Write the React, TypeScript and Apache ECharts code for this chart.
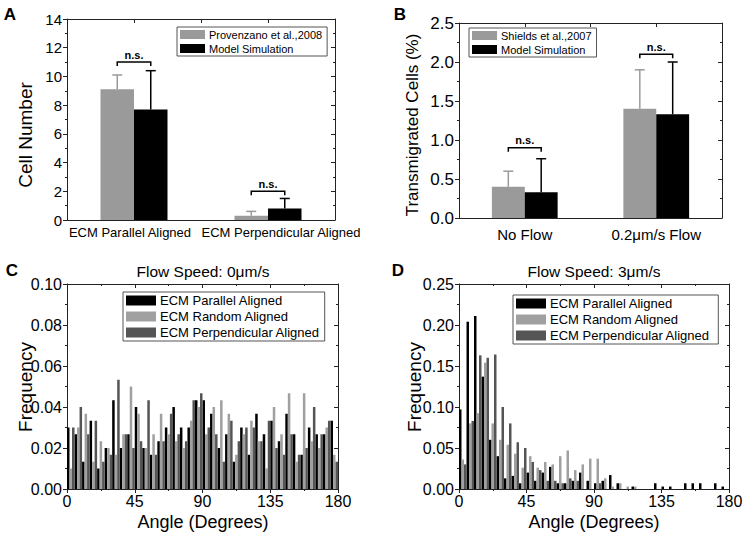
import React, { useEffect, useRef } from 'react';
import * as echarts from 'echarts';

const FONT = '"Liberation Sans", Arial, Helvetica, sans-serif';
const AXIS = '#222222';
const GRAY = '#9a9a9a';
const BLACK = '#000000';
const LIGHT = '#a0a0a0';
const DARK = '#555555';

// ---------- Panel A ----------
const catsA = ['ECM Parallel Aligned', 'ECM Perpendicular Aligned'];
const provenzano = [9.1, 0.3];
const provenzanoErr = [10.1, 0.6];
const modelA = [7.7, 0.8];
const modelAErr = [10.4, 1.5];
const nsA = [11, 2];

// ---------- Panel B ----------
const catsB = ['No Flow', '0.2μm/s Flow'];
const shields = [0.4, 1.4];
const shieldsErr = [0.6, 1.9];
const modelB = [0.33, 1.33];
const modelBErr = [0.76, 2.0];
const nsB = [0.9, 2.1];

// ---------- Panels C / D (5-degree bins) ----------
const binStarts = ['0', '5', '10', '15', '20', '25', '30', '35', '40', '45', '50', '55', '60', '65', '70', '75', '80', '85',
  '90', '95', '100', '105', '110', '115', '120', '125', '130', '135', '140', '145', '150', '155', '160', '165', '170', '175'];

const parallelC = [0.030, 0.0267, 0.0133, 0.0333, 0.010, 0.020, 0.0433, 0.020, 0.0267, 0.040, 0.020, 0.0167,
  0.0233, 0.030, 0.040, 0.030, 0.030, 0.0433, 0.0433, 0.0367, 0.020, 0.0267, 0.0133, 0.030,
  0.0167, 0.0367, 0.0267, 0.0333, 0.0233, 0.0367, 0.0267, 0.0167, 0.030, 0.0267, 0.0267, 0.0333];
const randomC = [0.010, 0.030, 0.0367, 0.0133, 0.0233, 0.020, 0.0167, 0.0267, 0.050, 0.0367, 0.020, 0.0267,
  0.0367, 0.0267, 0.0233, 0.020, 0.0333, 0.040, 0.0267, 0.040, 0.0433, 0.0367, 0.0167, 0.0267,
  0.0333, 0.0233, 0.010, 0.040, 0.0267, 0.0467, 0.0133, 0.0467, 0.0233, 0.020, 0.030, 0.0167];
const perpC = [0.030, 0.040, 0.0267, 0.0333, 0.0133, 0.0167, 0.0533, 0.0267, 0.020, 0.0233, 0.0433, 0.0167,
  0.0233, 0.0367, 0.0267, 0.0233, 0.0433, 0.0467, 0.030, 0.0267, 0.0133, 0.0333, 0.0233, 0.030,
  0.030, 0.0233, 0.0333, 0.020, 0.0167, 0.0267, 0.0167, 0.020, 0.040, 0.0267, 0.0333, 0.0133];

const parallelD = [0.097, 0.204, 0.211, 0.137, 0.060, 0.040, 0.013, 0.016, 0.007, 0.020, 0.010, 0.020,
  0.027, 0.007, 0.007, 0.010, 0.020, 0.010, 0.007, 0.010, 0.017, 0.007, 0, 0.003,
  0, 0, 0.007, 0.003, 0.003, 0, 0.007, 0.007, 0.007, 0, 0.007, 0.003];
const randomD = [0.036, 0.080, 0.0925, 0.154, 0.080, 0.060, 0.054, 0.043, 0.026, 0.040, 0.026, 0.033,
  0.030, 0.040, 0.047, 0.023, 0.030, 0.037, 0.037, 0.013, 0.003, 0.007, 0.003, 0.003,
  0, 0, 0, 0, 0, 0, 0, 0, 0, 0, 0, 0];
const perpD = [0.030, 0.083, 0.163, 0.160, 0.164, 0.100, 0.080, 0.057, 0.050, 0.033, 0.023, 0.010,
  0.010, 0.007, 0.013, 0.010, 0, 0, 0.007, 0, 0, 0, 0, 0,
  0, 0, 0, 0, 0, 0, 0, 0, 0, 0, 0, 0];

const seriesNamesCD = ['ECM Parallel Aligned', 'ECM Random Aligned', 'ECM Perpendicular Aligned'];

const lineStyle = { color: AXIS, width: 1 };

function yLeft(grid: number, max: number, interval: number, fs: number, digits: number) {
  return {
    type: 'value', gridIndex: grid, min: 0, max, interval, position: 'left',
    axisLine: { show: true, onZero: false, lineStyle },
    axisTick: { show: true, inside: false, length: 4, lineStyle },
    minorTick: { show: true, splitNumber: 2, length: 2, lineStyle },
    axisLabel: { show: true, margin: 5, color: '#000', fontSize: fs, fontFamily: FONT,
      formatter: (v: number) => v.toFixed(digits) },
    splitLine: { show: false }, minorSplitLine: { show: false },
  };
}
function yRight(grid: number, max: number, interval: number) {
  return {
    type: 'value', gridIndex: grid, min: 0, max, interval, position: 'right',
    axisLine: { show: true, onZero: false, lineStyle },
    axisTick: { show: true, inside: true, length: 4, lineStyle },
    minorTick: { show: true, splitNumber: 2, length: 2, lineStyle },
    axisLabel: { show: false },
    splitLine: { show: false }, minorSplitLine: { show: false },
  };
}
function xTop(grid: number, max: number, interval: number, minor: boolean) {
  return {
    type: 'value', gridIndex: grid, min: 0, max, interval, position: 'top',
    axisLine: { show: true, onZero: false, lineStyle },
    axisTick: { show: true, inside: true, length: 4, lineStyle },
    minorTick: { show: minor, splitNumber: 2, length: 2, lineStyle },
    axisLabel: { show: false },
    splitLine: { show: false }, minorSplitLine: { show: false },
  };
}
function xCat(grid: number, data: string[], fs: number, margin: number, showLabel: boolean) {
  return {
    type: 'category', gridIndex: grid, data, position: 'bottom',
    axisLine: { show: true, onZero: false, lineStyle },
    axisTick: { show: false },
    axisLabel: { show: showLabel, margin, color: '#000', fontSize: fs, fontFamily: FONT, interval: 0 },
    splitLine: { show: false },
  };
}
function xBins(grid: number) {
  return { type: 'category', gridIndex: grid, data: binStarts, show: false, position: 'bottom' };
}
function xAngle(grid: number) {
  return {
    type: 'value', gridIndex: grid, min: 0, max: 180, interval: 45, position: 'bottom',
    axisLine: { show: true, onZero: false, lineStyle },
    axisTick: { show: true, inside: false, length: 4, lineStyle },
    minorTick: { show: true, splitNumber: 2, length: 2, lineStyle },
    axisLabel: { show: true, margin: 4, color: '#000', fontSize: 16, fontFamily: FONT },
    splitLine: { show: false }, minorSplitLine: { show: false },
  };
}

function barSeries(name: string, data: number[], color: string, xi: number, yi: number, gap: string) {
  return {
    type: 'bar', name, data, xAxisIndex: xi, yAxisIndex: yi,
    barGap: '0%', barCategoryGap: gap, itemStyle: { color }, silent: true,
  };
}

function errSeries(xi: number, yi: number, vals: number[], errs: number[], off: number, color: string) {
  return {
    type: 'custom', xAxisIndex: xi, yAxisIndex: yi, z: 4, silent: true,
    data: vals.map((v, i) => [i, v, errs[i]]),
    renderItem: (_p: any, api: any) => {
      const base = api.coord([api.value(0), api.value(1)]);
      const top = api.coord([api.value(0), api.value(2)]);
      const band = api.size([1, 0])[0];
      const x = base[0] + off * band;
      const cap = 5;
      return {
        type: 'group', children: [
          { type: 'line', shape: { x1: x, y1: base[1], x2: x, y2: top[1] }, style: { stroke: color, lineWidth: 1.5 } },
          { type: 'line', shape: { x1: x - cap, y1: top[1], x2: x + cap, y2: top[1] }, style: { stroke: color, lineWidth: 1.5 } },
        ],
      };
    },
  };
}

function nsSeries(xi: number, yi: number, ys: number[]) {
  return {
    type: 'custom', xAxisIndex: xi, yAxisIndex: yi, z: 5, silent: true,
    data: ys.map((y, i) => [i, y]),
    renderItem: (_p: any, api: any) => {
      const c = api.coord([api.value(0), api.value(1)]);
      const band = api.size([1, 0])[0];
      const x1 = c[0] - band * 0.125;
      const x2 = c[0] + band * 0.125;
      const y = c[1];
      return {
        type: 'group', children: [
          { type: 'polyline', shape: { points: [[x1, y + 4], [x1, y], [x2, y], [x2, y + 4]] },
            style: { stroke: '#000', lineWidth: 1.5, fill: 'none' } },
          { type: 'text', style: { text: 'n.s.', x: (x1 + x2) / 2, y: y - 2, align: 'center', verticalAlign: 'bottom',
            fontSize: 11, fontWeight: 'bold', fontFamily: FONT, fill: '#000' } },
        ],
      };
    },
  };
}

function legendBox(names: string[], left: number, top: number, fs: number, iw: number, ih: number, gap: number) {
  return {
    data: names, left, top, orient: 'vertical', icon: 'rect', selectedMode: false,
    itemWidth: iw, itemHeight: ih, itemGap: gap, padding: [2, 5, 2, 3],
    borderColor: '#555', borderWidth: 1, backgroundColor: '#fff',
    textStyle: { fontSize: fs, fontFamily: FONT, color: '#000', padding: [0, 0, 0, -1] },
  };
}

function txt(text: string, x: number, y: number, size: number, rot = 0, bold = false) {
  return {
    type: 'text', x, y, rotation: rot, silent: true,
    style: { text, fontSize: size, fontFamily: FONT, fontWeight: bold ? 'bold' : 'normal', fill: '#000',
      align: 'center', verticalAlign: 'middle' },
  };
}

export default function App() {
  const ref = useRef<HTMLDivElement>(null);
  useEffect(() => {
    document.body.style.margin = '0';
    if (!ref.current) return;
    const chart = echarts.init(ref.current, undefined, { renderer: 'svg' });
    const option: any = {
      animation: false,
      backgroundColor: '#fff',
      grid: [
        { left: 67, top: 19, width: 268, height: 201, outerBoundsMode: 'none' },
        { left: 459, top: 23, width: 263, height: 195, outerBoundsMode: 'none' },
        { left: 67, top: 284, width: 271, height: 205, outerBoundsMode: 'none' },
        { left: 459, top: 284, width: 270, height: 205, outerBoundsMode: 'none' },
      ],
      xAxis: [
        xCat(0, catsA, 13, 6, false), // 0 (labels drawn below as texts, offset like the reference)
        xTop(0, 2, 0.5, false),       // 1
        xCat(1, catsB, 15, 9, true),  // 2
        xTop(1, 2, 0.5, false),       // 3
        xBins(2),                     // 4
        xAngle(2),                    // 5
        xTop(2, 180, 45, true),       // 6
        xBins(3),                     // 7
        xAngle(3),                    // 8
        xTop(3, 180, 45, true),       // 9
      ],
      yAxis: [
        yLeft(0, 14, 2, 15, 0),     // 0
        yRight(0, 14, 2),           // 1
        yLeft(1, 2.5, 0.5, 17, 1),  // 2
        yRight(1, 2.5, 0.5),        // 3
        yLeft(2, 0.1, 0.02, 16, 2), // 4
        yRight(2, 0.1, 0.02),       // 5
        yLeft(3, 0.25, 0.05, 16, 2),// 6
        yRight(3, 0.25, 0.05),      // 7
      ],
      legend: [
        legendBox(['Provenzano et al.,2008', 'Model Simulation'], 177, 27, 11, 25, 9, 3),
        legendBox(['Shields et al.,2007', 'Model Simulation '], 469, 28, 11, 25, 9, 3),
        legendBox(seriesNamesCD, 123, 292, 13, 30, 10, 3),
        legendBox(seriesNamesCD.map((n) => n + ' '), 513, 295, 13, 30, 10, 3),
      ],
      series: [
        barSeries('Provenzano et al.,2008', provenzano, GRAY, 0, 0, '50%'),
        barSeries('Model Simulation', modelA, BLACK, 0, 0, '50%'),
        errSeries(0, 0, provenzano, provenzanoErr, -0.125, GRAY),
        errSeries(0, 0, modelA, modelAErr, 0.125, BLACK),
        nsSeries(0, 0, nsA),

        barSeries('Shields et al.,2007', shields, GRAY, 2, 2, '50%'),
        barSeries('Model Simulation ', modelB, BLACK, 2, 2, '50%'),
        errSeries(2, 2, shields, shieldsErr, -0.125, GRAY),
        errSeries(2, 2, modelB, modelBErr, 0.125, BLACK),
        nsSeries(2, 2, nsB),

        barSeries(seriesNamesCD[0], parallelC, BLACK, 4, 4, '0%'),
        barSeries(seriesNamesCD[1], randomC, LIGHT, 4, 4, '0%'),
        barSeries(seriesNamesCD[2], perpC, DARK, 4, 4, '0%'),

        barSeries(seriesNamesCD[0] + ' ', parallelD, BLACK, 7, 6, '0%'),
        barSeries(seriesNamesCD[1] + ' ', randomD, LIGHT, 7, 6, '0%'),
        barSeries(seriesNamesCD[2] + ' ', perpD, DARK, 7, 6, '0%'),
      ],
      graphic: [
        txt('A', 10, 14, 17, 0, true),
        txt('B', 400, 14, 17, 0, true),
        txt('C', 12, 270, 17, 0, true),
        txt('D', 398, 270, 17, 0, true),
        txt(catsA[0], 130, 232, 13),
        txt(catsA[1], 281, 232, 13),
        txt('Cell Number', 25, 135, 19, Math.PI / 2),
        txt('Transmigrated Cells (%)', 412, 125, 17, Math.PI / 2),
        txt('Frequency', 25, 387, 19, Math.PI / 2),
        txt('Frequency', 414, 387, 19, Math.PI / 2),
        txt('Angle (Degrees)', 203, 522, 18),
        txt('Angle (Degrees)', 594, 522, 18),
        txt('Flow Speed: 0μm/s', 203, 271, 15.5),
        txt('Flow Speed: 3μm/s', 594, 271, 15.5),
      ],
    };
    chart.setOption(option);
    return () => chart.dispose();
  }, []);
  return <div ref={ref} style={{ width: 744, height: 534 }} />;
}
